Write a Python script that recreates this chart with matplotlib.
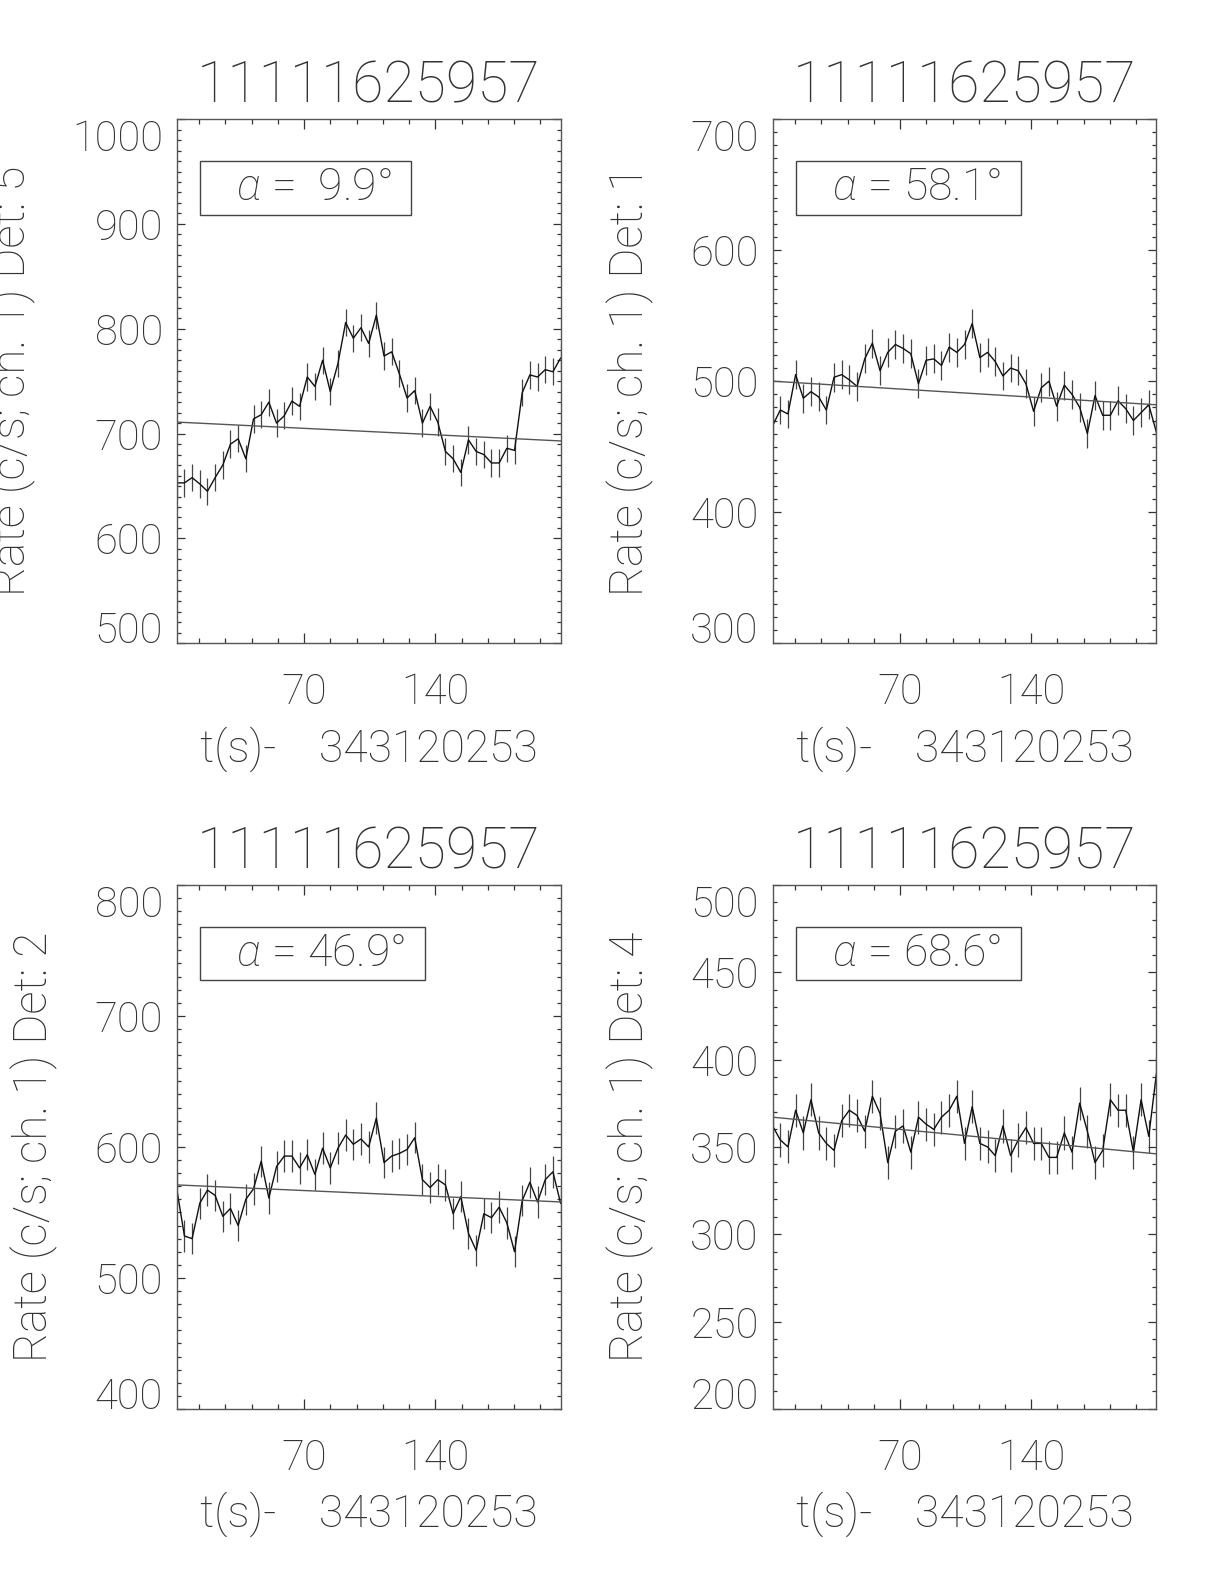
import numpy as np
import matplotlib.pyplot as plt
from matplotlib.ticker import MultipleLocator

# time axis: 51 bins of 4.096 s, seconds after 343120253
t_start = 2.0
bin_width = 4.096
n_bins = 51

title = '11111625957'
xlabel = 't(s)-    343120253'

# rates (c/s, ch. 1) read per bin
rate_det5 = [653, 653, 658, 652, 645, 658, 670, 690, 695, 676,
             714, 718, 730, 710, 717, 731, 726, 754, 745, 770,
             740, 767, 806, 791, 801, 786, 813, 774, 778, 757,
             734, 741, 710, 726, 711, 683, 676, 663, 694, 683,
             680, 672, 672, 686, 684, 739, 756, 754, 761, 759, 772]
rate_det1 = [466, 478, 475, 505, 487, 492, 488, 478, 503, 505,
             501, 496, 517, 529, 508, 522, 528, 525, 521, 498,
             516, 517, 512, 526, 522, 528, 544, 518, 522, 515,
             504, 510, 508, 498, 477, 495, 500, 481, 497, 490,
             480, 460, 489, 474, 474, 485, 479, 470, 476, 482, 461]
rate_det2 = [568, 532, 530, 557, 567, 563, 547, 553, 540, 560,
             568, 589, 561, 585, 593, 593, 584, 594, 579, 599,
             584, 599, 609, 602, 606, 600, 622, 588, 593, 595,
             598, 607, 575, 569, 575, 571, 549, 562, 534, 521,
             549, 546, 554, 542, 520, 559, 573, 558, 575, 581, 557]
rate_det4 = [362, 354, 350, 371, 358, 377, 358, 352, 348, 365,
             371, 368, 359, 379, 369, 341, 359, 362, 347, 367,
             363, 360, 367, 371, 379, 352, 373, 352, 350, 345,
             362, 345, 354, 361, 352, 352, 344, 344, 358, 347,
             375, 359, 341, 348, 377, 371, 371, 347, 377, 356, 392]

# error bar half widths per detector
err_det = [13, 11, 12, 9.5]
# background fit line (start, end)
fit_det = [(711, 693), (500, 482), (571, 558), (367, 346)]
dets = [5, 1, 2, 4]
alphas = [9.9, 58.1, 46.9, 68.6]
ylims = [(500, 1000), (300, 700), (400, 800), (200, 500)]
ymajor = [100, 100, 100, 50]
rates = [rate_det5, rate_det1, rate_det2, rate_det4]

plt.rcParams['font.family'] = ['Roboto', 'DejaVu Sans']
plt.rcParams['font.weight'] = 'light'
plt.rcParams['mathtext.fontset'] = 'custom'
plt.rcParams['mathtext.it'] = 'Roboto:italic:light'
plt.rcParams['mathtext.rm'] = 'Roboto:light'
ink = '#333333'

t = t_start + bin_width * np.arange(n_bins)

fig = plt.figure(figsize=(12.24, 15.84), dpi=100)
positions = [(0.1444, 0.5939), (0.6312, 0.5939), (0.1444, 0.1105), (0.6312, 0.1105)]

for k in range(4):
    ax = fig.add_axes([positions[k][0], positions[k][1], 0.3136, 0.3309])
    r = np.array(rates[k])
    ax.vlines(t, r - err_det[k], r + err_det[k], color='#444444', lw=0.9)
    ax.plot(t, r, color='#111111', lw=1.0)
    ax.plot([t[0], t[-1]], fit_det[k], color='#555555', lw=1.0)

    ax.set_xlim(t[0], t[-1])
    ax.set_ylim(*ylims[k])
    ax.xaxis.set_major_locator(MultipleLocator(70))
    ax.xaxis.set_minor_locator(MultipleLocator(14))
    ax.yaxis.set_major_locator(MultipleLocator(ymajor[k]))
    ax.yaxis.set_minor_locator(MultipleLocator(10))
    ax.tick_params(which='both', direction='in', top=True, right=True,
                   colors=ink, width=0.9)
    ax.tick_params(axis='x', which='major', length=7.5, pad=21, labelsize=30)
    ax.tick_params(axis='x', which='minor', length=3.6)
    ax.tick_params(axis='y', which='major', length=6, pad=10, labelsize=30)
    ax.tick_params(axis='y', which='minor', length=3)
    for sp in ax.spines.values():
        sp.set_color('#555555')
        sp.set_linewidth(1.0)

    # end labels sit inside the frame, as in the IDL plot
    for tick, loc in zip(ax.yaxis.get_major_ticks(), ax.yaxis.get_majorticklocs()):
        if np.isclose(loc, ylims[k][0]):
            tick.label1.set_va('baseline')
        elif np.isclose(loc, ylims[k][1]):
            tick.label1.set_va('top')

    ax.set_title(title, fontsize=41, color=ink, pad=12, fontweight='light')
    ax.set_xlabel(xlabel, fontsize=32, color=ink, labelpad=9, fontweight='light')
    ax.set_ylabel('Rate (c/s; ch. 1) Det: %d' % dets[k], fontsize=33,
                  color=ink, labelpad=26, fontweight='light')

    ax.text(0.074, 0.909, '   $\\alpha$ = ' + '%4.1f' % alphas[k] + '°  ',
            transform=ax.transAxes, fontsize=32, color=ink, va='top', ha='left',
            fontweight='light',
            bbox=dict(boxstyle='square,pad=0.12', fc='white', ec='#444444', lw=1.0))

fig.savefig('out.png', dpi=100)
